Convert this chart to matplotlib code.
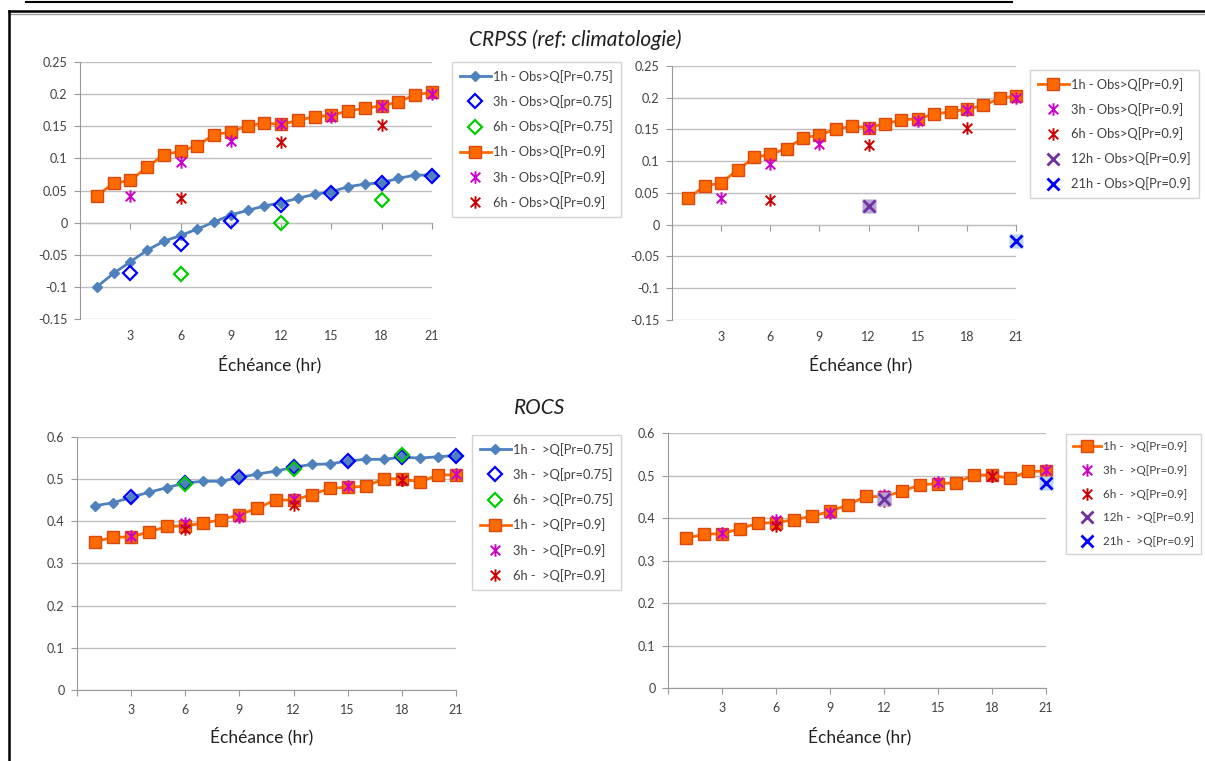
import matplotlib
matplotlib.use("Agg")
import matplotlib.pyplot as plt
from matplotlib.path import Path
from matplotlib.lines import Line2D
from matplotlib.ticker import FuncFormatter

plt.rcParams['font.family'] = ['Lato', 'DejaVu Sans']

# lead times (hours)
hours = list(range(1, 22))
hours3 = [3, 6, 9, 12, 15, 18, 21]
hours6 = [6, 12, 18]
hours12 = [12]
hours21 = [21]

# CRPSS (ref: climatologie)
crpss_1h_75 = [-0.100, -0.079, -0.061, -0.043, -0.029, -0.020, -0.010, 0.001, 0.012, 0.019, 0.026,
               0.031, 0.038, 0.044, 0.048, 0.056, 0.060, 0.062, 0.069, 0.074, 0.074]
crpss_3h_75 = [-0.079, -0.034, 0.002, 0.027, 0.046, 0.061, 0.073]
crpss_6h_75 = [-0.080, 0.000, 0.035]
crpss_1h_90 = [0.042, 0.061, 0.066, 0.086, 0.106, 0.111, 0.120, 0.137, 0.141, 0.151, 0.155,
               0.153, 0.159, 0.165, 0.167, 0.174, 0.178, 0.182, 0.188, 0.199, 0.203]
crpss_3h_90 = [0.042, 0.095, 0.127, 0.153, 0.164, 0.181, 0.200]
crpss_6h_90 = [0.039, 0.126, 0.152]
crpss_12h_90 = [0.030]
crpss_21h_90 = [-0.025]

# ROCS
rocs_1h_75 = [0.437, 0.444, 0.457, 0.469, 0.480, 0.491, 0.495, 0.495, 0.504, 0.512, 0.519,
              0.528, 0.535, 0.536, 0.543, 0.547, 0.547, 0.552, 0.550, 0.553, 0.556]
rocs_3h_75 = [0.457, 0.491, 0.505, 0.529, 0.542, 0.553, 0.556]
rocs_6h_75 = [0.488, 0.524, 0.558]
rocs_1h_90 = [0.352, 0.362, 0.363, 0.375, 0.388, 0.389, 0.396, 0.404, 0.416, 0.431, 0.451,
              0.450, 0.463, 0.478, 0.481, 0.483, 0.501, 0.501, 0.493, 0.510, 0.510]
rocs_3h_90 = [0.364, 0.396, 0.411, 0.453, 0.484, 0.499, 0.513]
rocs_6h_90 = [0.381, 0.439, 0.498]
rocs_12h_90 = [0.444]
rocs_21h_90 = [0.483]

BLUE_LINE = '#4F81BD'
ORANGE = '#FF6A00'
ORANGE_EDGE = '#D9480F'
GRID = '#BFBFBF'
AXIS = '#9A9A9A'
TXT = '#404040'

# Excel-like "star" marker: an X with a vertical bar
star = Path([(-1, -1), (1, 1), (-1, 1), (1, -1), (0, -1.3), (0, 1.3)],
            [Path.MOVETO, Path.LINETO, Path.MOVETO, Path.LINETO, Path.MOVETO, Path.LINETO])


def plot_75(ax, d1, d3, d6, tag):
    ax.plot(hours, d1, color=BLUE_LINE, lw=2, marker='D', ms=5, mfc=BLUE_LINE, mec=BLUE_LINE,
            label='1h - ' + tag + '[Pr=0.75]', zorder=3, clip_on=False)
    ax.plot(hours3, d3, ls='none', marker='D', ms=7, mfc='none', mec='#0000FF', mew=1.6,
            label='3h - ' + tag + '[pr=0.75]', zorder=4, clip_on=False)
    ax.plot(hours6, d6, ls='none', marker='D', ms=7, mfc='none', mec='#00CC00', mew=1.6,
            label='6h - ' + tag + '[Pr=0.75]', zorder=4, clip_on=False)


def plot_90(ax, d1, d3, d6, tag):
    ax.plot(hours, d1, color=ORANGE, lw=2, marker='s', ms=8, mfc=ORANGE, mec=ORANGE_EDGE, mew=1,
            label='1h - ' + tag + '[Pr=0.9]', zorder=3, clip_on=False)
    ax.plot(hours3, d3, ls='none', marker=star, ms=9, mec='#CC00CC', mew=1.4,
            label='3h - ' + tag + '[Pr=0.9]', zorder=4, clip_on=False)
    ax.plot(hours6, d6, ls='none', marker=star, ms=9, mec='#CC0000', mew=1.4,
            label='6h - ' + tag + '[Pr=0.9]', zorder=4, clip_on=False)


def plot_long(ax, d12, d21, tag):
    ax.plot(hours12, d12, ls='none', marker='s', ms=10, mfc='#B4A7D6', mec='none', zorder=4)
    ax.plot(hours12, d12, ls='none', marker='x', ms=8, mec='#7030A0', mew=2,
            label='12h - ' + tag + '[Pr=0.9]', zorder=5)
    ax.plot(hours21, d21, ls='none', marker='s', ms=10, mfc='#BDD7EE', mec='none', zorder=4,
            clip_on=False)
    ax.plot(hours21, d21, ls='none', marker='x', ms=8, mec='#0000FF', mew=2,
            label='21h - ' + tag + '[Pr=0.9]', zorder=5, clip_on=False)


def style_axes(ax, ylim, ystep, cross_zero):
    ax.set_xlim(0, 21)
    ax.set_ylim(*ylim)
    n = int(round((ylim[1] - ylim[0]) / ystep))
    ax.set_yticks([ylim[0] + i * ystep for i in range(n + 1)])
    ax.yaxis.set_major_formatter(FuncFormatter(lambda v, p: '%g' % round(v, 3)))
    ax.set_xticks(hours3)
    ax.grid(axis='y', color=GRID, lw=1)
    ax.set_axisbelow(True)
    for s in ['top', 'right']:
        ax.spines[s].set_visible(False)
    ax.spines['left'].set_color(AXIS)
    ax.tick_params(axis='y', colors=AXIS, labelcolor=TXT, labelsize=9, length=4, pad=5)
    if cross_zero:
        ax.spines['bottom'].set_visible(False)
        ax.tick_params(axis='x', length=0, labelcolor=TXT, labelsize=9, pad=8)
        frac = (0 - ylim[0]) / (ylim[1] - ylim[0])
        sec = ax.secondary_xaxis(frac)
        sec.set_xticks([0] + hours3)
        sec.spines['bottom'].set_color(AXIS)
        sec.tick_params(axis='x', colors=AXIS, length=4, labelbottom=False)
    else:
        ax.spines['bottom'].set_color(AXIS)
        ax.set_xticks([0] + hours3)
        ax.set_xticklabels([''] + [str(h) for h in hours3])
        ax.tick_params(axis='x', colors=AXIS, labelcolor=TXT, labelsize=9, length=4, pad=6)


def add_legend(ax, anchor, spacing, size=9.3):
    leg = ax.legend(loc='upper left', bbox_to_anchor=anchor, bbox_transform=fig.transFigure,
                    fontsize=size, frameon=True, fancybox=False, edgecolor='#C8C8C8',
                    labelspacing=spacing, handlelength=2.4, handletextpad=0.2,
                    borderpad=0.6, borderaxespad=0, labelcolor=TXT)
    leg.get_frame().set_linewidth(1)


fig = plt.figure(figsize=(12.05, 7.61), dpi=100)

ax1 = fig.add_axes([0.0664, 0.5808, 0.2921, 0.3377])
plot_75(ax1, crpss_1h_75, crpss_3h_75, crpss_6h_75, 'Obs>Q')
plot_90(ax1, crpss_1h_90, crpss_3h_90, crpss_6h_90, 'Obs>Q')
style_axes(ax1, (-0.15, 0.25), 0.05, True)
add_legend(ax1, (0.375, 0.9185), 0.95)

ax2 = fig.add_axes([0.5577, 0.5795, 0.2855, 0.3338])
plot_90(ax2, crpss_1h_90, crpss_3h_90, crpss_6h_90, 'Obs>Q')
plot_long(ax2, crpss_12h_90, crpss_21h_90, 'Obs>Q')
style_axes(ax2, (-0.15, 0.25), 0.05, True)
add_legend(ax2, (0.8548, 0.9080), 0.92)

ax3 = fig.add_axes([0.0639, 0.0933, 0.3145, 0.3325])
plot_75(ax3, rocs_1h_75, rocs_3h_75, rocs_6h_75, ' >Q')
plot_90(ax3, rocs_1h_90, rocs_3h_90, rocs_6h_90, ' >Q')
style_axes(ax3, (0, 0.6), 0.1, False)
add_legend(ax3, (0.3917, 0.4284), 0.95)

ax4 = fig.add_axes([0.5544, 0.0959, 0.3137, 0.3351])
plot_90(ax4, rocs_1h_90, rocs_3h_90, rocs_6h_90, ' >Q')
plot_long(ax4, rocs_12h_90, rocs_21h_90, ' >Q')
style_axes(ax4, (0, 0.6), 0.1, False)
add_legend(ax4, (0.8845, 0.4297), 1.1, size=8.4)

label_pos = {ax1: (0.54, -0.14), ax2: (0.547, -0.137), ax3: (0.488, -0.145), ax4: (0.508, -0.152)}
for ax, (lx, ly) in label_pos.items():
    ax.set_xlabel('Échéance (hr)', fontsize=12.5, color='#202020')
    ax.xaxis.set_label_coords(lx, ly)

fig.text(575 / 1205, 1 - 40 / 761, 'CRPSS (ref: climatologie)', fontsize=15, style='italic',
         ha='center', va='center', color='#202020')
fig.text(540 / 1205, 1 - 408 / 761, 'ROCS', fontsize=15, style='italic',
         ha='center', va='center', color='#202020')

# page frame around the figure
fig.add_artist(Line2D([26 / 1205, 1012 / 1205], [1 - 1.5 / 761] * 2, transform=fig.transFigure,
                      color='black', lw=1.5))
fig.add_artist(Line2D([9 / 1205, 1], [1 - 11 / 761] * 2, transform=fig.transFigure,
                      color='black', lw=1.8))
fig.add_artist(Line2D([9 / 1205, 1], [1 - 13.5 / 761] * 2, transform=fig.transFigure,
                      color='#A0A0A0', lw=1))
fig.add_artist(Line2D([9 / 1205] * 2, [0, 1 - 11 / 761], transform=fig.transFigure,
                      color='black', lw=1.8))

fig.savefig('out.png', dpi=100)
